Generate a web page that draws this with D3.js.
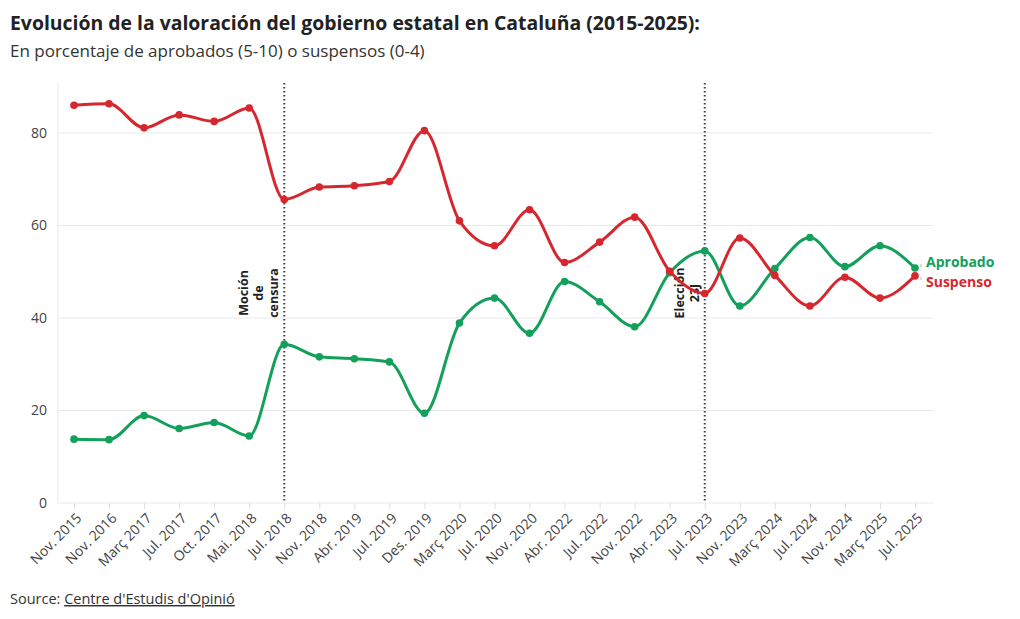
<!DOCTYPE html>
<html>
<head>
<meta charset="utf-8">
<script src="https://cdn.jsdelivr.net/npm/d3@7"></script>
<style>
  body { margin: 0; background: #fff; }
  svg text { font-family: "Open Sans", "Noto Sans", sans-serif; }
</style>
</head>
<body>
<div id="chart"></div>
<script>
// categories and series
var periods = ['Nov. 2015','Nov. 2016','Març 2017','Jul. 2017','Oct. 2017','Mai. 2018','Jul. 2018',
  'Nov. 2018','Abr. 2019','Jul. 2019','Des. 2019','Març 2020','Jul. 2020','Nov. 2020','Abr. 2022',
  'Jul. 2022','Nov. 2022','Abr. 2023','Jul. 2023','Nov. 2023','Març 2024','Jul. 2024','Nov. 2024',
  'Març 2025','Jul. 2025'];

var aprobado = [13.8,13.7,18.9,16.1,17.4,14.5,34.3,31.6,31.2,30.5,19.4,38.9,44.3,36.7,47.9,
  43.5,38.1,49.8,54.5,42.6,50.7,57.4,51.1,55.6,50.8];

var suspenso = [86.0,86.3,81.1,83.9,82.5,85.4,65.6,68.3,68.6,69.5,80.5,61.0,55.6,63.4,52.0,
  56.4,61.8,50.1,45.3,57.3,49.2,42.6,48.8,44.3,49.1];

var y_ticks = [0, 20, 40, 60, 80];

var events = [
  {period: 'Jul. 2018', lines: ['Moción', 'de', 'censura']},
  {period: 'Jul. 2023', lines: ['Elección', '23J']}
];

var series = [
  {name: 'Aprobado', values: aprobado, color: '#13a05b', label_y: 262},
  {name: 'Suspenso', values: suspenso, color: '#d6272f', label_y: 282}
];

var width = 1020, height = 619;
var plot = {left: 58, right: 933, top: 83, bottom: 503};

var svg = d3.select('#chart')
  .append('svg')
  .attr('width', width)
  .attr('height', height);

// title block
svg.append('text')
  .attr('x', 10).attr('y', 30)
  .style('font-size', '19.4px').style('font-weight', 700)
  .attr('fill', '#222')
  .text('Evolución de la valoración del gobierno estatal en Cataluña (2015-2025):');

svg.append('text')
  .attr('x', 10).attr('y', 57)
  .style('font-size', '17px')
  .attr('fill', '#333')
  .text('En porcentaje de aprobados (5-10) o suspensos (0-4)');

var x = d3.scalePoint()
  .domain(periods)
  .range([74, 915]);

var y = d3.scaleLinear()
  .domain([0, 90.8])
  .range([plot.bottom, plot.top]);

// grid
var grid = svg.append('g').classed('grid', true);
grid.selectAll('line')
  .data(y_ticks)
  .enter().append('line')
  .attr('x1', plot.left).attr('x2', plot.right)
  .attr('y1', function(d) { return y(d); })
  .attr('y2', function(d) { return y(d); })
  .attr('stroke', '#e9e9e9')
  .attr('stroke-width', 1);

grid.append('line')
  .attr('x1', plot.left).attr('x2', plot.left)
  .attr('y1', plot.top).attr('y2', plot.bottom)
  .attr('stroke', '#e9e9e9');

// y axis labels
svg.append('g')
  .selectAll('text')
  .data(y_ticks)
  .enter().append('text')
  .attr('x', 47)
  .attr('y', function(d) { return y(d) + 5; })
  .attr('text-anchor', 'end')
  .style('font-size', '14px')
  .attr('fill', '#444')
  .text(function(d) { return d; });

// x axis
var x_axis = svg.append('g')
  .attr('transform', 'translate(0,' + plot.bottom + ')')
  .call(d3.axisBottom(x).tickSize(6).tickSizeOuter(0));

x_axis.select('.domain').remove();
x_axis.selectAll('.tick line').attr('stroke', '#e0e0e0');
x_axis.selectAll('.tick text')
  .attr('fill', '#444')
  .style('font-size', '14px')
  .attr('text-anchor', 'end')
  .attr('y', 0).attr('dy', 0)
  .attr('transform', 'translate(8,16) rotate(-45)');

// event markers
var ev = svg.append('g').classed('events', true);
events.forEach(function(e) {
  var ex = x(e.period);
  ev.append('line')
    .attr('x1', ex).attr('x2', ex)
    .attr('y1', plot.top).attr('y2', plot.bottom)
    .attr('stroke', '#444')
    .attr('stroke-width', 2)
    .attr('stroke-dasharray', '1.5,2.5');

  var n = e.lines.length;
  e.lines.forEach(function(t, i) {
    var bx = ex - 6 - (n - 1 - i) * 15;
    ev.append('text')
      .attr('transform', 'translate(' + bx + ',293) rotate(-90)')
      .attr('text-anchor', 'middle')
      .style('font-size', '12.5px').style('font-weight', 700)
      .attr('fill', '#222')
      .text(t);
  });
});

// lines
var line = d3.line()
  .x(function(d, i) { return x(periods[i]); })
  .y(function(d) { return y(d); })
  .curve(d3.curveMonotoneX);

series.forEach(function(s) {
  var g = svg.append('g').classed('series', true);
  g.append('path')
    .datum(s.values)
    .attr('d', line)
    .attr('fill', 'none')
    .attr('stroke', s.color)
    .attr('stroke-width', 3)
    .attr('stroke-linecap', 'round');

  g.selectAll('circle')
    .data(s.values)
    .enter().append('circle')
    .attr('cx', function(d, i) { return x(periods[i]); })
    .attr('cy', function(d) { return y(d); })
    .attr('r', 3.8)
    .attr('fill', s.color);

  // end label with small connector
  var last = s.values[s.values.length - 1];
  var ly = y(last);
  g.append('path')
    .attr('d', 'M921,' + (ly + (s.label_y > ly ? 1 : -1)) + ' L921,' + (s.label_y + (s.label_y > ly ? -2 : 2)))
    .attr('stroke', '#bbb')
    .attr('stroke-width', 1)
    .attr('fill', 'none');

  g.append('text')
    .attr('x', 926)
    .attr('y', s.label_y + 5)
    .style('font-size', '14px').style('font-weight', 700)
    .attr('fill', s.color)
    .text(s.name);
});

// source
var src = svg.append('text')
  .attr('x', 10).attr('y', 604)
  .style('font-size', '14.5px')
  .attr('fill', '#333');
src.append('tspan').text('Source: ');
src.append('tspan')
  .style('text-decoration', 'underline')
  .text("Centre d'Estudis d'Opinió");
</script>
</body>
</html>
